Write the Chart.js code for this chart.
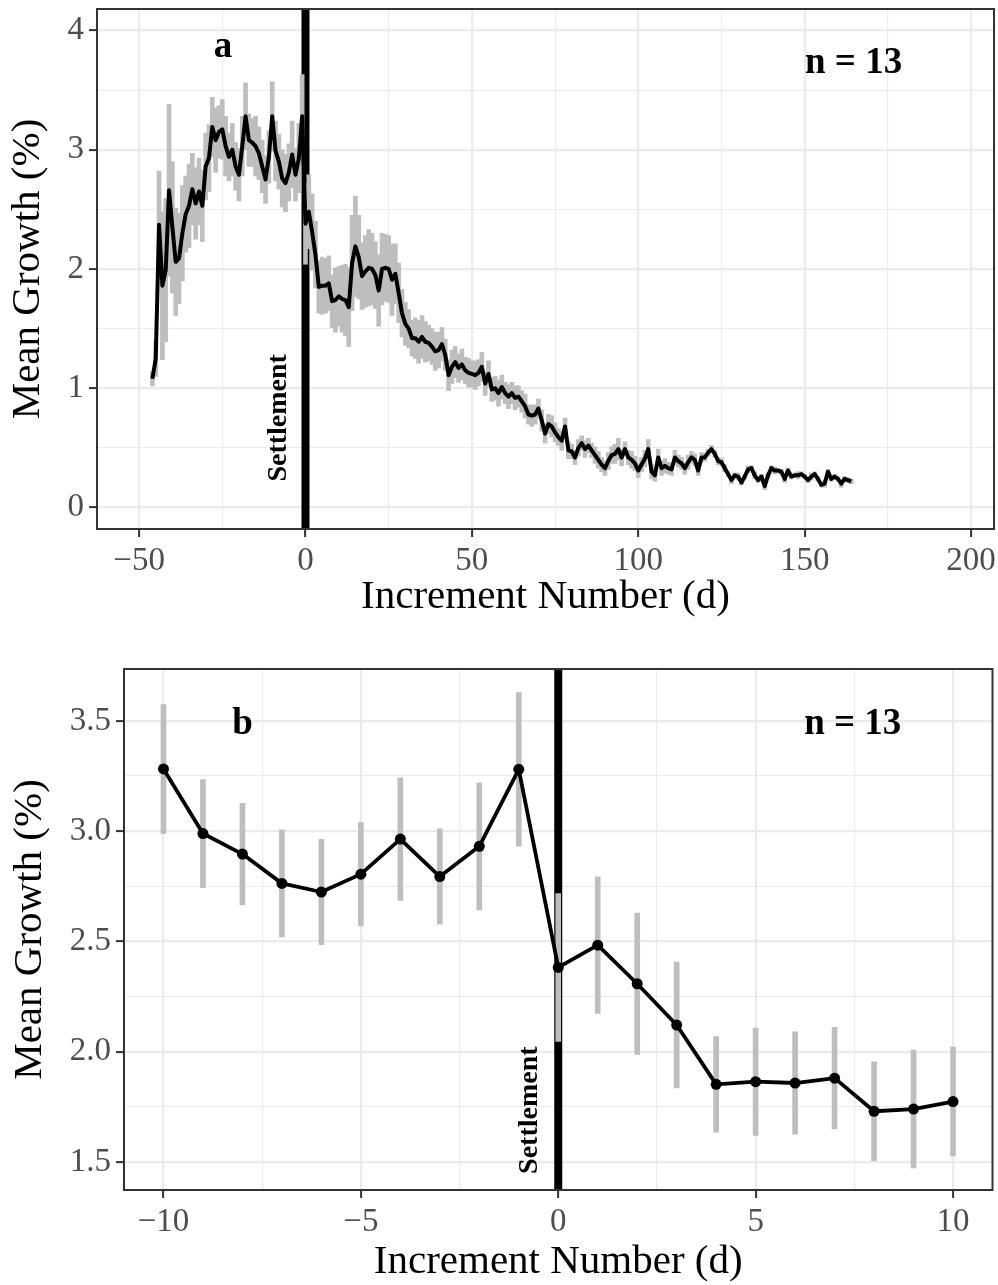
<!DOCTYPE html>
<html>
<head>
<meta charset="utf-8">
<script src="https://cdn.jsdelivr.net/npm/chart.js@4.4.1/dist/chart.umd.min.js"></script>
<style>
  html, body { margin: 0; padding: 0; background: #fff; }
  #page { position: relative; width: 998px; height: 1285px; overflow: hidden; }
  #chartA { position: absolute; left: 0; top: 0; }
  #chartB { position: absolute; left: 0; top: 640px; }
</style>
</head>
<body>
<div id="page">
  <canvas id="chartA" width="998" height="640"></canvas>
  <canvas id="chartB" width="998" height="660"></canvas>
</div>
<script>
// panel a : every increment, -46 .. 164
const firstIncA = -46;
const meanA = [
  1.08, 1.25, 2.37, 1.86, 1.99, 2.66, 2.35, 2.06, 2.09, 2.30,
  2.46, 2.53, 2.67, 2.55, 2.65, 2.53, 2.86, 2.93, 3.19, 3.08,
  3.15, 3.17, 3.03, 2.94, 3.00, 2.86, 2.79, 3.03, 3.28, 3.08,
  3.06, 3.03, 2.97, 2.86, 2.75, 2.94, 3.28, 2.99, 2.90, 2.76,
  2.72, 2.81, 2.96, 2.79, 2.93, 3.28, 2.38, 2.48, 2.31, 2.12,
  1.85, 1.86, 1.86, 1.88, 1.73, 1.74, 1.77, 1.75, 1.74, 1.68,
  2.05, 2.19, 2.10, 1.94, 1.98, 2.01, 2.00, 1.95, 1.82, 2.00,
  2.01, 2.00, 1.91, 1.96, 1.80, 1.63, 1.54, 1.50, 1.42, 1.42,
  1.39, 1.43, 1.39, 1.38, 1.35, 1.31, 1.32, 1.37, 1.28, 1.11,
  1.18, 1.22, 1.17, 1.20, 1.15, 1.13, 1.12, 1.11, 1.13, 1.18,
  1.04, 1.12, 0.99, 1.00, 0.96, 1.01, 0.96, 0.93, 0.96, 0.92,
  0.93, 0.89, 0.85, 0.78, 0.77, 0.78, 0.83, 0.73, 0.62, 0.70,
  0.68, 0.63, 0.59, 0.56, 0.68, 0.48, 0.47, 0.42, 0.50, 0.54,
  0.49, 0.52, 0.48, 0.44, 0.40, 0.36, 0.33, 0.39, 0.44, 0.45,
  0.49, 0.42, 0.49, 0.42, 0.40, 0.37, 0.31, 0.36, 0.41, 0.49,
  0.30, 0.27, 0.42, 0.33, 0.35, 0.33, 0.32, 0.42, 0.39, 0.37,
  0.33, 0.38, 0.42, 0.40, 0.31, 0.42, 0.42, 0.46, 0.49, 0.45,
  0.39, 0.38, 0.33, 0.28, 0.23, 0.27, 0.26, 0.21, 0.26, 0.32,
  0.33, 0.27, 0.23, 0.26, 0.18, 0.27, 0.33, 0.31, 0.31, 0.30,
  0.24, 0.31, 0.26, 0.27, 0.27, 0.28, 0.26, 0.23, 0.26, 0.28,
  0.24, 0.19, 0.20, 0.30, 0.24, 0.26, 0.24, 0.20, 0.24, 0.23,
  0.22
];
const seA = [
  0.06, 0.15, 0.45, 0.62, 0.60, 0.72, 0.55, 0.45, 0.38, 0.40,
  0.32, 0.35, 0.30, 0.30, 0.28, 0.30, 0.28, 0.28, 0.25, 0.27,
  0.22, 0.25, 0.25, 0.20, 0.22, 0.20, 0.22, 0.25, 0.28, 0.22,
  0.20, 0.25, 0.22, 0.22, 0.20, 0.22, 0.29, 0.25, 0.23, 0.24,
  0.24, 0.24, 0.28, 0.22, 0.29, 0.35, 0.34, 0.31, 0.32, 0.28,
  0.22, 0.24, 0.23, 0.23, 0.22, 0.27, 0.25, 0.28, 0.30, 0.33,
  0.40, 0.42, 0.35, 0.28, 0.30, 0.32, 0.30, 0.28, 0.30, 0.30,
  0.28, 0.28, 0.30, 0.25, 0.25, 0.20, 0.18, 0.16, 0.15, 0.17,
  0.18, 0.18, 0.17, 0.15, 0.15, 0.16, 0.15, 0.14, 0.13, 0.13,
  0.14, 0.13, 0.12, 0.13, 0.11, 0.12, 0.11, 0.12, 0.11, 0.12,
  0.10, 0.11, 0.10, 0.10, 0.11, 0.10, 0.09, 0.10, 0.09, 0.10,
  0.09, 0.09, 0.10, 0.08, 0.09, 0.08, 0.08, 0.09, 0.08, 0.08,
  0.09, 0.08, 0.07, 0.08, 0.07, 0.07, 0.06, 0.06, 0.07, 0.06,
  0.07, 0.06, 0.06, 0.07, 0.07, 0.06, 0.06, 0.07, 0.07, 0.08,
  0.09, 0.07, 0.06, 0.06, 0.07, 0.06, 0.06, 0.06, 0.07, 0.08,
  0.06, 0.05, 0.07, 0.06, 0.06, 0.05, 0.05, 0.06, 0.05, 0.05,
  0.05, 0.06, 0.05, 0.05, 0.04, 0.04, 0.03, 0.03, 0.03, 0.03,
  0.03, 0.03, 0.03, 0.02, 0.03, 0.02, 0.03, 0.02, 0.02, 0.03,
  0.02, 0.03, 0.02, 0.02, 0.03, 0.02, 0.02, 0.03, 0.02, 0.02,
  0.03, 0.02, 0.02, 0.02, 0.03, 0.02, 0.02, 0.02, 0.03, 0.02,
  0.02, 0.02, 0.03, 0.02, 0.02, 0.02, 0.02, 0.03, 0.02, 0.02,
  0.02
];
const incA = meanA.map((_, i) => firstIncA + i);

// panel b : ten increments either side of settlement
const incB = [-10, -9, -8, -7, -6, -5, -4, -3, -2, -1, 0, 1, 2, 3, 4, 5, 6, 7, 8, 9, 10];
const meanB = [3.282, 2.989, 2.896, 2.763, 2.724, 2.805, 2.964, 2.794, 2.931, 3.280, 2.382,
               2.483, 2.308, 2.121, 1.852, 1.864, 1.858, 1.880, 1.730, 1.740, 1.774];
const seB = [0.292, 0.245, 0.230, 0.243, 0.239, 0.235, 0.278, 0.216, 0.288, 0.348, 0.335,
             0.310, 0.320, 0.285, 0.217, 0.243, 0.232, 0.230, 0.224, 0.267, 0.247];

// labelled (major) ticks
const xTicksA = [-50, 0, 50, 100, 150, 200];
const yTicksA = [0, 1, 2, 3, 4];
const xTicksB = [-10, -5, 0, 5, 10];
const yTicksB = [1.5, 2.0, 2.5, 3.0, 3.5];

const serif = 'Liberation Serif';

const isMajor = (list, v) => list.some(m => Math.abs(m - v) < 1e-6);
const fmt = (v, digits) => (v < -1e-9 ? '\u2212' : '') + Math.abs(v).toFixed(digits);

const makeAxis = (horizontal, min, max, step, majors, digits, title, size, titlePad) => ({
    type: 'linear',
    min: min,
    max: max,
    offset: false,
    afterFit: (scale) => {
        if (horizontal) scale.height = size;
        else scale.width = size;
        // panel edges are fixed by layout padding, not by label overhang
        scale.paddingTop = 0;
        scale.paddingBottom = 0;
        scale.paddingLeft = 0;
        scale.paddingRight = 0;
    },
    border: { display: false },
    grid: {
        offset: false,
        color: '#EBEBEB',
        lineWidth: ctx => (ctx.tick && isMajor(majors, ctx.tick.value)) ? 2.2 : 1.1,
        drawTicks: true,
        tickLength: 8,
        tickWidth: 2,
        tickColor: ctx => (ctx.tick && isMajor(majors, ctx.tick.value)) ? '#333333' : 'rgba(0,0,0,0)'
    },
    ticks: {
        stepSize: step,
        includeBounds: false,
        autoSkip: false,
        maxRotation: 0,
        minRotation: 0,
        maxTicksLimit: 100,
        padding: 5,
        color: '#4D4D4D',
        font: { family: serif, size: 33 },
        callback: v => isMajor(majors, v) ? fmt(v, digits) : ''
    },
    title: {
        display: true,
        text: title,
        color: '#000000',
        font: { family: serif, size: 41, lineHeight: 1.2 },
        padding: titlePad
    }
});

// settlement line, panel letters and border
const panelDecor = {
    id: 'panelDecor',
    beforeDatasetsDraw(chart, args, opts) {
        const { ctx, chartArea, scales } = chart;
        const px = scales.x.getPixelForValue(opts.settleAt);
        ctx.save();
        ctx.strokeStyle = '#000000';
        ctx.lineWidth = 8;
        ctx.beginPath();
        ctx.moveTo(px, chartArea.top);
        ctx.lineTo(px, chartArea.bottom);
        ctx.stroke();
        ctx.restore();
    },
    afterDatasetsDraw(chart, args, opts) {
        const { ctx, scales } = chart;
        ctx.save();
        ctx.fillStyle = '#000000';
        ctx.textAlign = 'center';
        ctx.textBaseline = 'middle';
        ctx.font = 'bold 37px "' + serif + '"';
        opts.labels.forEach(l => {
            ctx.fillText(l.text, scales.x.getPixelForValue(l.x), scales.y.getPixelForValue(l.y));
        });
        ctx.translate(scales.x.getPixelForValue(opts.settleText.x), scales.y.getPixelForValue(opts.settleText.y));
        ctx.rotate(-Math.PI / 2);
        ctx.font = 'bold 28px "' + serif + '"';
        ctx.fillText('Settlement', 0, 0);
        ctx.restore();
    },
    afterDraw(chart) {
        const { ctx, chartArea } = chart;
        ctx.save();
        ctx.strokeStyle = '#333333';
        ctx.lineWidth = 2;
        ctx.strokeRect(chartArea.left, chartArea.top, chartArea.right - chartArea.left, chartArea.bottom - chartArea.top);
        ctx.restore();
    }
};

// Panel a
new Chart(document.getElementById('chartA'), {
    type: 'line',
    data: {
        datasets: [
            {
                type: 'bar',
                data: incA.map((x, i) => ({ x: x, y: [meanA[i] - seA[i], meanA[i] + seA[i]] })),
                backgroundColor: '#BEBEBE',
                borderWidth: 0,
                barThickness: 4,
                order: 2
            },
            {
                type: 'line',
                data: incA.map((x, i) => ({ x: x, y: meanA[i] })),
                borderColor: '#000000',
                borderWidth: 4,
                borderJoinStyle: 'round',
                pointRadius: 0,
                tension: 0,
                order: 1
            }
        ]
    },
    options: {
        responsive: false,
        animation: false,
        events: [],
        layout: { padding: { left: 0, top: 9, right: 4, bottom: 0 } },
        scales: {
            x: makeAxis(true, -62.65, 206.9, 25, xTicksA, 0, 'Increment Number (d)', 111, { top: 0, bottom: 17.9 }),
            y: makeAxis(false, -0.18, 4.18, 0.5, yTicksA, 0, 'Mean Growth (%)', 97, { top: 4, bottom: 0 })
        },
        plugins: {
            legend: { display: false },
            tooltip: { enabled: false },
            panelDecor: {
                settleAt: 0,
                settleText: { x: -8.1, y: 0.752 },
                labels: [
                    { text: 'a', x: -24.8, y: 3.86 },
                    { text: 'n = 13', x: 164.7, y: 3.72 }
                ]
            }
        }
    },
    plugins: [panelDecor]
});

// Panel b
new Chart(document.getElementById('chartB'), {
    type: 'line',
    data: {
        datasets: [
            {
                type: 'bar',
                data: incB.map((x, i) => ({ x: x, y: [meanB[i] - seB[i], meanB[i] + seB[i]] })),
                backgroundColor: '#BEBEBE',
                borderWidth: 0,
                barThickness: 5,
                order: 2
            },
            {
                type: 'line',
                data: incB.map((x, i) => ({ x: x, y: meanB[i] })),
                borderColor: '#000000',
                borderWidth: 3.8,
                borderJoinStyle: 'round',
                pointRadius: 5.5,
                pointBackgroundColor: '#000000',
                pointBorderWidth: 0,
                tension: 0,
                order: 1
            }
        ]
    },
    options: {
        responsive: false,
        animation: false,
        events: [],
        layout: { padding: { left: 0, top: 29, right: 4, bottom: 0 } },
        scales: {
            x: makeAxis(true, -11, 11, 2.5, xTicksB, 0, 'Increment Number (d)', 110, { top: 0, bottom: 12.9 }),
            y: makeAxis(false, 1.373, 3.735, 0.25, yTicksB, 1, 'Mean Growth (%)', 124, { top: 6, bottom: 0 })
        },
        plugins: {
            legend: { display: false },
            tooltip: { enabled: false },
            panelDecor: {
                settleAt: 0,
                settleText: { x: -0.73, y: 1.735 },
                labels: [
                    { text: 'b', x: -8.0, y: 3.485 },
                    { text: 'n = 13', x: 7.46, y: 3.485 }
                ]
            }
        }
    },
    plugins: [panelDecor]
});
</script>
</body>
</html>
